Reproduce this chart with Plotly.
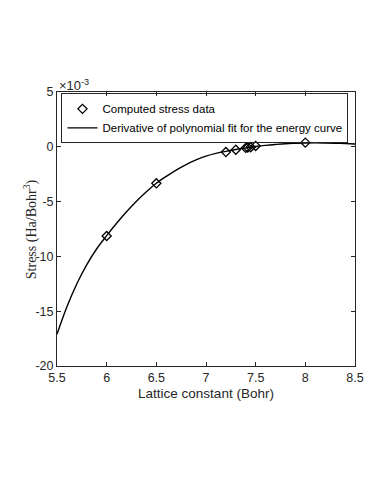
import plotly.graph_objects as go

# Computed stress data (Ha/Bohr^3)
lattice_pts = [6.0, 6.5, 7.2, 7.3, 7.4, 7.42, 7.45, 7.5, 8.0]
stress_pts = [-8.14e-3, -3.33e-3, -0.48e-3, -0.27e-3, -0.1e-3, -0.07e-3, -0.04e-3, 0.08e-3, 0.38e-3]

# Derivative of polynomial fit
fit_x = [5.5, 5.6, 5.7, 5.8, 5.9, 6.0, 6.1, 6.2, 6.3, 6.4, 6.5, 6.6, 6.7, 6.8, 6.9,
         7.0, 7.1, 7.2, 7.3, 7.4, 7.5, 7.6, 7.7, 7.8, 7.9, 8.0, 8.1, 8.2, 8.3, 8.4, 8.5]
fit_y = [-17.1e-3, -14.6e-3, -12.5e-3, -10.75e-3, -9.3e-3, -8.1e-3, -6.98e-3, -5.93e-3,
         -4.97e-3, -4.1e-3, -3.33e-3, -2.7e-3, -2.12e-3, -1.62e-3, -1.2e-3, -0.85e-3,
         -0.6e-3, -0.42e-3, -0.25e-3, -0.1e-3, 0.03e-3, 0.13e-3, 0.21e-3, 0.28e-3,
         0.32e-3, 0.35e-3, 0.36e-3, 0.35e-3, 0.33e-3, 0.3e-3, 0.26e-3]

x_ticks = [5.5, 6, 6.5, 7, 7.5, 8, 8.5]
x_ticktext = ["5.5", "6", "6.5", "7", "7.5", "8", "8.5"]
y_ticks = [5e-3, 0, -5e-3, -10e-3, -15e-3, -20e-3]
y_ticktext = ["5", "0", "-5", "-10", "-15", "-20"]

sans = "Liberation Sans, Arial, Helvetica, sans-serif"
serif = "Liberation Serif, Times New Roman, serif"

fig = go.Figure()
fig.add_trace(go.Scatter(
    x=lattice_pts, y=stress_pts, mode="markers",
    name="Computed stress data",
    marker=dict(symbol="diamond-open", size=7, color="black", line=dict(width=1.3, color="black")),
))
fig.add_trace(go.Scatter(
    x=fit_x, y=fit_y, mode="lines", line_shape="spline",
    name="Derivative of polynomial fit for the energy curve",
    line=dict(color="black", width=1.4),
))

axis_common = dict(
    showline=True, linecolor="#262626", linewidth=1, mirror="ticks",
    ticks="inside", ticklen=4, tickcolor="#262626", tickwidth=1,
    showgrid=False, zeroline=False,
    tickfont=dict(family=sans, size=12.5, color="#262626"),
)

fig.update_layout(
    width=374, height=484,
    margin=dict(l=49, r=27, t=84, b=126),
    paper_bgcolor="white", plot_bgcolor="white",
    font=dict(family=sans, size=12, color="#262626"),
    xaxis=dict(range=[5.5, 8.5], tickvals=x_ticks, ticktext=x_ticktext,
               title=dict(text="Lattice constant (Bohr)", font=dict(family=sans, size=13.5, color="#262626"), standoff=4),
               **axis_common),
    yaxis=dict(range=[-20e-3, 5e-3], tickvals=y_ticks, ticktext=y_ticktext,
               **axis_common),
    showlegend=True,
    legend=dict(x=0.015, y=0.995, xanchor="left", yanchor="top",
                bordercolor="#262626", borderwidth=1, bgcolor="rgba(255,255,255,0)",
                font=dict(family=sans, size=11.5, color="black"),
                itemwidth=30, tracegroupgap=0),
)

fig.add_annotation(
    text="Stress (Ha/Bohr<sup>3</sup>)", textangle=-90,
    xref="paper", yref="paper", x=-0.09, y=0.5, xanchor="center", yanchor="middle",
    showarrow=False, font=dict(family=serif, size=14, color="#262626"),
)
fig.add_annotation(
    text="×10<sup>-3</sup>", xref="paper", yref="paper", x=0.0, y=1.0,
    xanchor="left", yanchor="bottom", showarrow=False, yshift=-3,
    font=dict(family=sans, size=13, color="#262626"),
)

fig.write_html("out.html")
